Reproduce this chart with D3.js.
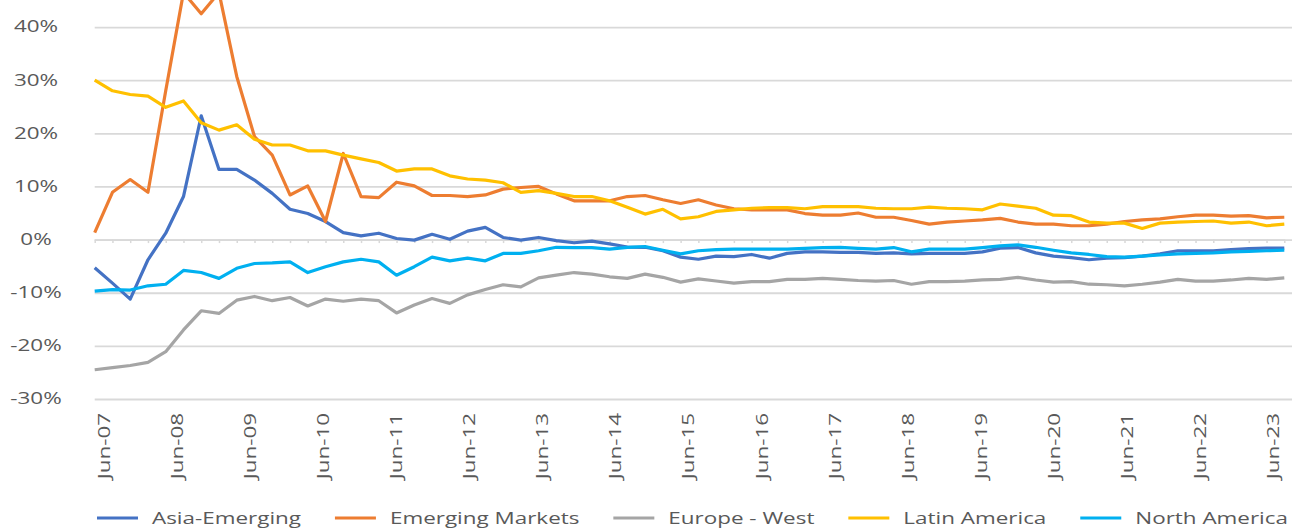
<!DOCTYPE html>
<html lang="en">
<head>
  <meta charset="UTF-8" />
  <title>Regional growth</title>
  <script src="https://d3js.org/d3.v7.min.js"></script>
  <style>
    body { margin: 0; background: #fff; }
    svg { display: block; }
    text { font-family: "Open Sans", sans-serif; font-size: 16.5px; fill: #595959; }
    .grid line { stroke: #d9d9d9; stroke-width: 1.8px; }
    .grid path { display: none; }
    .cat path, .cat line { stroke: #d9d9d9; stroke-width: 1.5px; }
    .labels path, .labels line { display: none; }
    .series { fill: none; stroke-width: 3.2px; stroke-linejoin: round; }
  </style>
</head>
<body>
  <script>
    // quarterly points, Jun-07 .. Mar-24
    var quarters = d3.timeMonth.range(new Date(2007, 5, 1), new Date(2024, 3, 1), 3)
      .map(d3.timeFormat("%b-%y"));

    var yearLabels = ["Jun-07", "Jun-08", "Jun-09", "Jun-10", "Jun-11", "Jun-12", "Jun-13", "Jun-14",
      "Jun-15", "Jun-16", "Jun-17", "Jun-18", "Jun-19", "Jun-20", "Jun-21", "Jun-22", "Jun-23"];

    // 50% gridline sits above the visible area, so only these carry labels
    var yTicks = [-30, -20, -10, 0, 10, 20, 30, 40];

    var seriesNames = ["Asia-Emerging", "Emerging Markets", "Europe - West", "Latin America", "North America"];
    var seriesColors = ["#4472c4", "#ed7d31", "#a5a5a5", "#ffc000", "#00b0f0"];

    var asiaEmerging = [-5.3, -8.2, -11.2, -3.8, 1.2, 8.1, 23.3, 13.2, 13.2, 11.2, 8.7, 5.7, 4.9, 3.4, 1.3, 0.7,
      1.2, 0.2, -0.1, 1.0, 0.05, 1.6, 2.3, 0.4, -0.1, 0.4, -0.2, -0.6, -0.3, -0.8, -1.4, -1.45,
      -2.1, -3.3, -3.7, -3.1, -3.2, -2.8, -3.5, -2.6, -2.3, -2.3, -2.4, -2.4, -2.6, -2.5, -2.7, -2.6,
      -2.6, -2.6, -2.3, -1.6, -1.5, -2.5, -3.1, -3.4, -3.8, -3.5, -3.4, -3.1, -2.7, -2.1, -2.1, -2.1,
      -1.9, -1.7, -1.6, -1.6];

    var emergingMarkets = [1.3, 8.9, 11.3, 8.9, 28, 46.5, 42.5, 46.5, 30.7, 19.4, 15.9, 8.4, 10.1, 3.4, 16.2, 8.1,
      7.9, 10.8, 10.1, 8.3, 8.3, 8.1, 8.4, 9.5, 9.8, 10.0, 8.6, 7.3, 7.3, 7.3, 8.1, 8.3,
      7.5, 6.8, 7.5, 6.5, 5.8, 5.6, 5.6, 5.6, 4.9, 4.6, 4.6, 5.0, 4.2, 4.2, 3.6, 2.9,
      3.3, 3.5, 3.7, 4.0, 3.3, 2.9, 2.9, 2.6, 2.6, 2.9, 3.4, 3.7, 3.9, 4.3, 4.6, 4.6,
      4.4, 4.5, 4.1, 4.2];

    var europeWest = [-24.5, -24.1, -23.7, -23.1, -21.1, -17.0, -13.4, -13.9, -11.4, -10.7, -11.5, -10.9, -12.5, -11.2, -11.6, -11.2,
      -11.5, -13.8, -12.3, -11.1, -12.0, -10.4, -9.4, -8.5, -8.9, -7.2, -6.7, -6.2, -6.5, -7.0, -7.3, -6.5,
      -7.1, -8.0, -7.4, -7.8, -8.2, -7.9, -7.9, -7.5, -7.5, -7.3, -7.5, -7.7, -7.8, -7.7, -8.4, -7.9,
      -7.9, -7.8, -7.6, -7.5, -7.1, -7.6, -8.0, -7.9, -8.4, -8.5, -8.7, -8.4, -8.0, -7.5, -7.8, -7.8,
      -7.6, -7.3, -7.5, -7.2];

    var latinAmerica = [30.0, 28.0, 27.3, 27.0, 24.9, 26.1, 22.0, 20.6, 21.6, 18.9, 17.8, 17.8, 16.7, 16.7, 15.9, 15.2,
      14.5, 12.9, 13.3, 13.3, 12.0, 11.4, 11.2, 10.7, 8.9, 9.2, 8.7, 8.1, 8.1, 7.3, 6.1, 4.8,
      5.7, 3.9, 4.3, 5.3, 5.6, 5.9, 6.0, 6.0, 5.8, 6.2, 6.2, 6.2, 5.9, 5.8, 5.8, 6.1,
      5.9, 5.8, 5.6, 6.7, 6.3, 5.9, 4.6, 4.5, 3.3, 3.1, 3.1, 2.1, 3.1, 3.3, 3.4, 3.5,
      3.1, 3.3, 2.6, 2.9];

    var northAmerica = [-9.7, -9.4, -9.5, -8.7, -8.4, -5.8, -6.2, -7.3, -5.4, -4.5, -4.4, -4.2, -6.2, -5.1, -4.2, -3.7,
      -4.2, -6.7, -5.1, -3.3, -4.0, -3.5, -4.0, -2.6, -2.6, -2.1, -1.45, -1.5, -1.5, -1.8, -1.45, -1.3,
      -2.0, -2.7, -2.1, -1.9, -1.8, -1.8, -1.8, -1.8, -1.65, -1.5, -1.45, -1.65, -1.8, -1.5, -2.3, -1.8,
      -1.8, -1.8, -1.5, -1.2, -1.0, -1.45, -2.0, -2.5, -2.8, -3.2, -3.3, -3.1, -2.9, -2.7, -2.6, -2.5,
      -2.3, -2.2, -2.1, -2.0];

    var seriesValues = [asiaEmerging, emergingMarkets, europeWest, latinAmerica, northAmerica];

    var width = 1294, height = 528;
    var left = 94.7, right = 1284.3, gridRight = 1292;
    var textStretch = 1.36;

    var svg = d3.select("body").append("svg")
      .attr("width", width)
      .attr("height", height);

    var x = d3.scalePoint().domain(quarters).range([left, right]);
    var xLabels = d3.scalePoint().domain(yearLabels).range([103.3, 1273]);
    var y = d3.scaleLinear().domain([-30, 50]).range([399, -26.1]);

    // gridlines + y labels
    svg.append("g")
      .attr("class", "grid")
      .attr("transform", "translate(" + left + ",0)")
      .call(d3.axisLeft(y).tickValues(yTicks).tickSize(-(gridRight - left)).tickFormat(function (d) { return d + "%"; }))
      .selectAll("text")
      .attr("x", 0)
      .attr("dy", "0.3em")
      .attr("text-anchor", "middle")
      .attr("transform", "translate(" + (36 - left) + ",0) scale(" + textStretch + ",1)");

    // category axis on the zero line
    svg.append("g")
      .attr("class", "cat")
      .attr("transform", "translate(0," + y(0) + ")")
      .call(d3.axisBottom(x).tickSize(3.5).tickSizeOuter(0).tickFormat(""));

    // rotated year labels below the plot
    svg.append("g")
      .attr("class", "labels")
      .attr("transform", "translate(0,402)")
      .call(d3.axisBottom(xLabels).tickSize(0))
      .selectAll("text")
      .attr("x", -8)
      .attr("y", 0)
      .attr("dy", "0.35em")
      .attr("text-anchor", "end")
      .attr("transform", "rotate(-90) scale(" + textStretch + ",1)");

    var line = d3.line()
      .x(function (d, i) { return x(quarters[i]); })
      .y(function (d) { return y(d); });

    svg.selectAll(".series")
      .data(seriesValues)
      .enter().append("path")
      .attr("class", "series")
      .attr("stroke", function (d, i) { return seriesColors[i]; })
      .attr("d", line);

    // legend, spread between x=97 and x=1288
    var legend = svg.append("g").attr("transform", "translate(97,518)");
    var items = seriesNames.map(function (name, i) {
      var item = legend.append("g");
      item.append("line")
        .attr("x1", 0).attr("x2", 41)
        .attr("stroke", seriesColors[i])
        .attr("stroke-width", 3.2);
      var t = item.append("text")
        .attr("transform", "translate(55,6) scale(" + textStretch + ",1)")
        .text(name);
      return { g: item, w: 55 + t.node().getComputedTextLength() * textStretch };
    });
    var used = d3.sum(items, function (d) { return d.w; });
    var gap = (1288 - 97 - used) / (items.length - 1);
    var cursor = 0;
    items.forEach(function (d) {
      d.g.attr("transform", "translate(" + cursor + ",0)");
      cursor += d.w + gap;
    });
  </script>
</body>
</html>
